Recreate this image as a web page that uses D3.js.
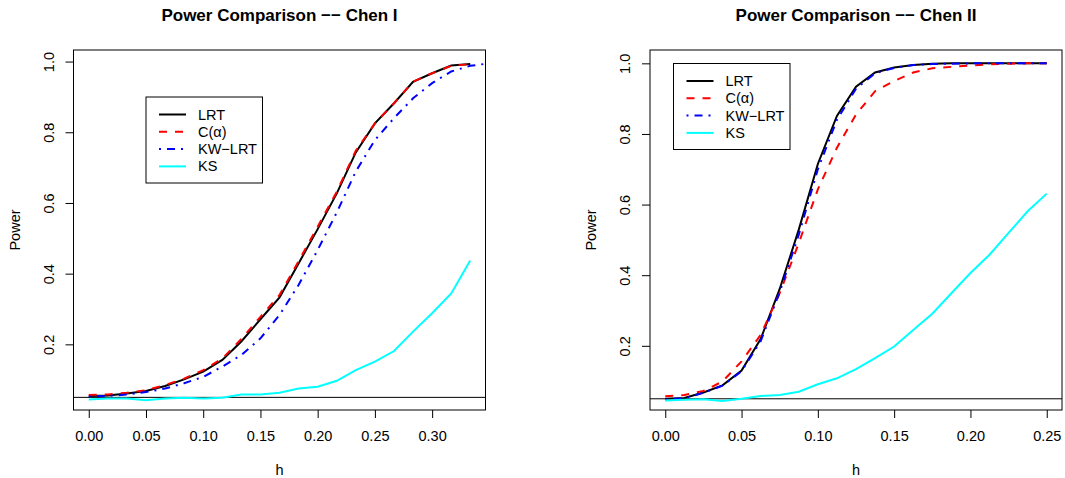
<!DOCTYPE html>
<html>
<head>
<meta charset="utf-8">
<script src="https://cdn.jsdelivr.net/npm/d3@7"></script>
<style>
  body { margin: 0; background: #fff; }
  svg { font-family: "Liberation Sans", Arial, Helvetica, sans-serif; }
</style>
</head>
<body>
<svg id="chart" width="1065" height="478"></svg>
<script>
// Chen I : h grid (KW-LRT has one more point, clipped by the box)
var hChen1 = [0.000, 0.0167, 0.0333, 0.050, 0.0667, 0.0833, 0.100, 0.1167, 0.1333, 0.150, 0.1667,
              0.1833, 0.200, 0.2167, 0.2333, 0.250, 0.2667, 0.2833, 0.300, 0.3167, 0.3333, 0.350];
var lrtChen1    = [0.054, 0.055, 0.061, 0.068, 0.082, 0.101, 0.123, 0.156, 0.208, 0.271, 0.333,
                   0.429, 0.526, 0.627, 0.743, 0.825, 0.882, 0.943, 0.967, 0.989, 0.993];
var calphaChen1 = [0.057, 0.058, 0.063, 0.070, 0.085, 0.103, 0.127, 0.160, 0.215, 0.278, 0.340,
                   0.435, 0.533, 0.632, 0.748, 0.825, 0.882, 0.943, 0.967, 0.988, 0.993];
var kwChen1     = [0.052, 0.054, 0.058, 0.065, 0.075, 0.090, 0.108, 0.137, 0.170, 0.217, 0.283,
                   0.368, 0.467, 0.573, 0.689, 0.778, 0.840, 0.896, 0.939, 0.972, 0.988, 0.995];
var ksChen1     = [0.044, 0.047, 0.047, 0.042, 0.047, 0.049, 0.047, 0.049, 0.058, 0.058, 0.063,
                   0.075, 0.080, 0.097, 0.127, 0.151, 0.181, 0.236, 0.288, 0.344, 0.437];

// Chen II
var hChen2 = [0.000, 0.0125, 0.025, 0.0375, 0.050, 0.0625, 0.075, 0.0875, 0.100, 0.1125, 0.125,
              0.1375, 0.150, 0.1625, 0.175, 0.1875, 0.200, 0.2125, 0.225, 0.2375, 0.250];
var lrtChen2    = [0.050, 0.052, 0.068, 0.088, 0.130, 0.219, 0.361, 0.529, 0.715, 0.851, 0.934,
                   0.974, 0.988, 0.995, 0.999, 1.000, 1.000, 1.000, 1.000, 1.000, 1.000];
var calphaChen2 = [0.057, 0.061, 0.072, 0.099, 0.156, 0.231, 0.349, 0.491, 0.643, 0.761, 0.855,
                   0.921, 0.950, 0.974, 0.986, 0.990, 0.994, 0.997, 0.999, 1.000, 1.000];
var kwChen2     = [0.048, 0.051, 0.067, 0.087, 0.128, 0.213, 0.352, 0.515, 0.700, 0.840, 0.928,
                   0.972, 0.987, 0.995, 0.998, 0.999, 1.000, 1.000, 1.000, 1.000, 1.000];
var ksChen2     = [0.045, 0.047, 0.049, 0.044, 0.050, 0.058, 0.061, 0.070, 0.091, 0.108, 0.134,
                   0.165, 0.198, 0.245, 0.291, 0.349, 0.406, 0.458, 0.520, 0.581, 0.631];

var xTicks1 = [0.00, 0.05, 0.10, 0.15, 0.20, 0.25, 0.30];
var xTicks2 = [0.00, 0.05, 0.10, 0.15, 0.20, 0.25];
var yTicks  = [0.2, 0.4, 0.6, 0.8, 1.0];
var ylim1 = [0.052, 0.995];
var ylim2 = [0.056, 1.000];
var alphaLevel = 0.05;

var seriesNames = ["LRT", "C(\u03b1)", "KW\u2212LRT", "KS"];
var seriesColors = ["#000000", "#ff0000", "#0000ff", "#00ffff"];
var seriesDash = [null, "8,8", "2,6,8,6", null];

var svg = d3.select("#chart");

function rExtend(lim) {
    var d = (lim[1] - lim[0]) * 0.04;
    return [lim[0] - d, lim[1] + d];
}

function drawPanel(opt) {
    var left = opt.left, top = 50, w = 412, h = 360;
    var g = svg.append("g");

    var x = d3.scaleLinear().domain(rExtend([opt.h[0], opt.h[opt.lrt.length - 1]])).range([left, left + w]);
    var y = d3.scaleLinear().domain(rExtend(opt.ylim)).range([top + h, top]);

    var clipId = "clip" + opt.id;
    svg.append("clipPath").attr("id", clipId)
        .append("rect").attr("x", left).attr("y", top).attr("width", w).attr("height", h);

    // title
    g.append("text")
        .attr("x", left + w / 2).attr("y", 21)
        .attr("text-anchor", "middle")
        .attr("font-size", 17).attr("font-weight", "bold")
        .text(opt.title);

    // x axis
    var xa = g.append("g").attr("transform", "translate(0," + (top + h) + ")")
        .call(d3.axisBottom(x).tickValues(opt.xTicks).tickSize(8).tickPadding(0).tickFormat(d3.format(".2f")));
    xa.select(".domain").remove();
    xa.selectAll("line").attr("stroke", "#000");
    xa.selectAll("text").attr("font-size", 14.5).attr("fill", "#000").attr("dy", null).attr("y", 31);

    // y axis
    var ya = g.append("g").attr("transform", "translate(" + left + ",0)")
        .call(d3.axisLeft(y).tickValues(yTicks).tickSize(8).tickFormat(d3.format(".1f")));
    ya.select(".domain").remove();
    ya.selectAll("line").attr("stroke", "#000");
    ya.selectAll("text")
        .attr("font-size", 14.5).attr("fill", "#000")
        .attr("x", null).attr("dy", null)
        .attr("text-anchor", "middle")
        .attr("transform", "translate(-20,0) rotate(-90)");

    // axis titles
    g.append("text")
        .attr("x", left + w / 2).attr("y", 475)
        .attr("text-anchor", "middle").attr("font-size", 14.5)
        .text("h");
    g.append("text")
        .attr("transform", "translate(" + (left - 54) + "," + (top + h / 2) + ") rotate(-90)")
        .attr("text-anchor", "middle").attr("font-size", 14.5)
        .text("Power");

    var plot = g.append("g").attr("clip-path", "url(#" + clipId + ")");

    // nominal level
    plot.append("line")
        .attr("x1", left).attr("x2", left + w)
        .attr("y1", y(alphaLevel)).attr("y2", y(alphaLevel))
        .attr("stroke", "#000").attr("stroke-width", 1);

    var series = [opt.lrt, opt.calpha, opt.kw, opt.ks];
    var line = d3.line()
        .x(function(d, i) { return x(opt.h[i]); })
        .y(function(d) { return y(d); });

    // same order as the legend, later ones on top
    series.forEach(function(vals, s) {
        plot.append("path")
            .datum(vals)
            .attr("d", line)
            .attr("fill", "none")
            .attr("stroke", seriesColors[s])
            .attr("stroke-width", 2)
            .attr("stroke-dasharray", seriesDash[s]);
    });

    // box
    g.append("rect")
        .attr("x", left).attr("y", top).attr("width", w).attr("height", h)
        .attr("fill", "none").attr("stroke", "#000").attr("stroke-width", 1);

    // legend
    var lg = g.append("g").attr("transform", "translate(" + opt.legend[0] + "," + opt.legend[1] + ")");
    lg.append("rect")
        .attr("x", 0).attr("y", 0).attr("width", 116.5).attr("height", 86)
        .attr("fill", "#fff").attr("stroke", "#000").attr("stroke-width", 1);
    seriesNames.forEach(function(name, i) {
        var ry = 17.5 + i * 17.3;
        lg.append("line")
            .attr("x1", 13).attr("x2", 40).attr("y1", ry).attr("y2", ry)
            .attr("stroke", seriesColors[i]).attr("stroke-width", 2)
            .attr("stroke-dasharray", seriesDash[i]);
        lg.append("text")
            .attr("x", 52).attr("y", ry + 5)
            .attr("font-size", 14.5)
            .text(name);
    });
}

drawPanel({
    id: 1, left: 73.5, title: "Power Comparison \u2212\u2212 Chen I",
    h: hChen1, lrt: lrtChen1, calpha: calphaChen1, kw: kwChen1, ks: ksChen1,
    xTicks: xTicks1, ylim: ylim1, legend: [146, 97]
});
drawPanel({
    id: 2, left: 650, title: "Power Comparison \u2212\u2212 Chen II",
    h: hChen2, lrt: lrtChen2, calpha: calphaChen2, kw: kwChen2, ks: ksChen2,
    xTicks: xTicks2, ylim: ylim2, legend: [673.5, 63.5]
});
</script>
</body>
</html>
